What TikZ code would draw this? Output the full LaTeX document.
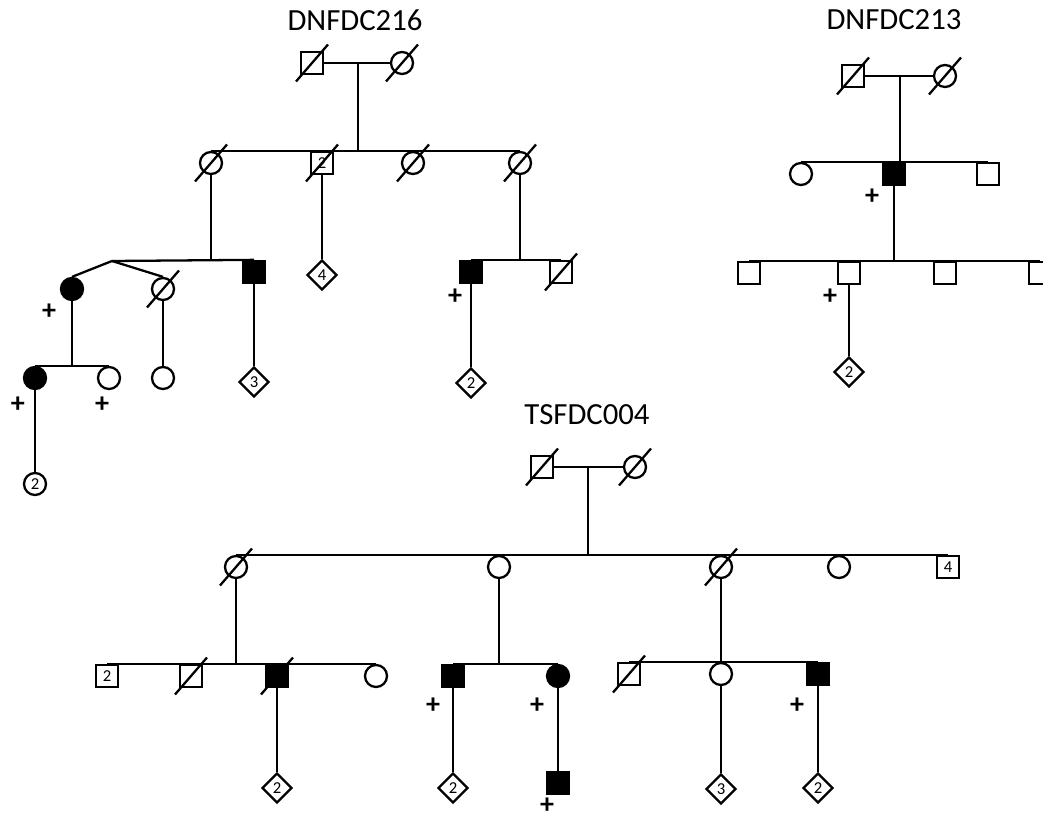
\documentclass[tikz,border=0pt]{standalone}
\usepackage{fontspec}
\setmainfont{Carlito}
\usetikzlibrary{shapes.geometric,calc}

\tikzset{
  ind/.style={draw,inner sep=0pt,font=\fontsize{9.5}{9.5}\selectfont},
  male/.style={ind,rectangle,minimum size=0.44cm},
  female/.style={ind,circle,minimum size=0.44cm},
  unknown/.style={ind,diamond,minimum size=0.6cm},
  aff/.style={fill=black},
  carrier/.style={inner sep=0pt,font=\fontsize{16}{16}\selectfont\bfseries},
  famid/.style={font=\fontsize{17.5}{17.5}\selectfont},
}
\newcommand{\deceased}[1]{\draw ([shift={(-16,18.5)}]#1.center) -- ([shift={(16,-18.5)}]#1.center);}

\begin{document}
\begin{tikzpicture}[x=0.02cm,y=-0.02cm,line width=1.3pt]
\clip (0,0) rectangle (1043,820);

% DNFDC216
\node[famid] (t1) at (355,20) {DNFDC216};
\node[male] (a1) at (312,63) {};
\node[female] (a2) at (402,63) {};
\draw (a1) -- (a2);
\coordinate (a12) at (358,63);
\node[female] (b1) at (211,163) {};
\node[male] (b2) at (322,163) {2};
\node[female] (b3) at (413,163) {};
\node[female] (b4) at (520,163) {};
\draw (b1.north) -- (b4.north);
\draw (a12) -- (a12 |- b1.north);
\deceased{a1} \deceased{a2} \deceased{b1} \deceased{b2} \deceased{b3} \deceased{b4}
% twins
\coordinate (tw) at (112,261);
\node[female,aff] (c1) at (72,289) {};
\node[female] (c2) at (163,289) {};
\node[male,aff] (c3) at (254,272) {};
\draw (tw) -- (c3.north);
\draw (tw) -- (c1.north);
\draw (tw) -- (c2.north);
\draw (b1.south) -- (b1.south |- tw);
\deceased{c2}
\node[carrier] (p1) at (49,312) {+};
\node[unknown] (c4) at (322,275) {4};
\draw (b2.south) -- (c4.north);
\node[male,aff] (c5) at (471,272) {};
\node[male] (c6) at (561,272) {};
\draw (c5.north) -- (c6.north);
\draw (b4.south) -- (b4.south |- c5.north);
\deceased{c6}
\node[carrier] (p2) at (455,297) {+};
\node[unknown] (d5) at (471,383) {2};
\draw (c5.south) -- (d5.north);
\node[female,aff] (d1) at (35,378) {};
\node[female] (d2) at (109,378) {};
\draw (d1.north) -- (d2.north);
\draw (c1.south) -- (c1.south |- d1.north);
\node[female] (d3) at (163,378) {};
\draw (c2.south) -- (d3.north);
\node[unknown] (d4) at (254,382) {3};
\draw (c3.south) -- (d4.north);
\node[carrier] (p3) at (18,405) {+};
\node[carrier] (p4) at (102,405) {+};
\node[female] (e1) at (35,484) {2};
\draw (d1.south) -- (e1.north);

% DNFDC213
\node[famid] (t2) at (894,20) {DNFDC213};
\node[male] (f1) at (853,76) {};
\node[female] (f2) at (945,76) {};
\draw (f1) -- (f2);
\coordinate (f12) at (900,76);
\node[female] (g1) at (801,174) {};
\node[male,aff] (g2) at (894,174) {};
\node[male] (g3) at (988,174) {};
\draw (g1.north) -- (g3.north);
\draw (f12) -- (f12 |- g2.north);
\deceased{f1} \deceased{f2}
\node[carrier] (p5) at (872,197) {+};
\node[male] (h1) at (749,273) {};
\node[male] (h2) at (849,273) {};
\node[male] (h3) at (945,273) {};
\node[male] (h4) at (1040,273) {};
\draw (h1.north) -- (h4.north);
\draw (g2.south) -- (g2.south |- h1.north);
\node[carrier] (p6) at (830,297) {+};
\node[unknown] (i1) at (849,372) {2};
\draw (h2.south) -- (i1.north);

% TSFDC004
\node[famid] (t3) at (587,415) {TSFDC004};
\node[male] (j1) at (542,467) {};
\node[female] (j2) at (635,467) {};
\draw (j1) -- (j2);
\coordinate (j12) at (588,467);
\node[female] (k1) at (236,567) {};
\node[female] (k2) at (499,567) {};
\node[female] (k3) at (721,567) {};
\node[female] (k4) at (839,567) {};
\node[male] (k5) at (948,567) {4};
\draw (k1.north) -- (k5.north);
\draw (j12) -- (j12 |- k1.north);
\deceased{j1} \deceased{j2} \deceased{k1} \deceased{k3}
% left branch
\node[male] (l1) at (107,676) {2};
\node[male] (l2) at (191,676) {};
\node[male,aff] (l3) at (277,676) {};
\node[female] (l4) at (376,676) {};
\draw (l1.north) -- (l4.north);
\draw (k1.south) -- (k1.south |- l1.north);
\deceased{l2} \deceased{l3}
\node[unknown] (m1) at (277,788) {2};
\draw (l3.south) -- (m1.north);
% middle branch
\node[male,aff] (l5) at (453,676) {};
\node[female,aff] (l6) at (558,676) {};
\draw (l5.north) -- (l6.north);
\draw (k2.south) -- (k2.south |- l5.north);
\node[carrier] (p7) at (433,706) {+};
\node[carrier] (p8) at (537,706) {+};
\node[unknown] (m2) at (453,788) {2};
\draw (l5.south) -- (m2.north);
\node[male,aff] (m3) at (558,783) {};
\draw (l6.south) -- (m3.north);
\node[carrier] (p9) at (547,806) {+};
% right branch
\node[male] (l7) at (629,674) {};
\node[female] (l8) at (721,674) {};
\node[male,aff] (l9) at (818,674) {};
\draw (l7.north) -- (l9.north);
\draw (k3.south) -- (l8.north);
\deceased{l7}
\node[carrier] (p10) at (797,706) {+};
\node[unknown] (m4) at (721,789) {3};
\draw (l8.south) -- (m4.north);
\node[unknown] (m5) at (818,788) {2};
\draw (l9.south) -- (m5.north);
\end{tikzpicture}
\end{document}
